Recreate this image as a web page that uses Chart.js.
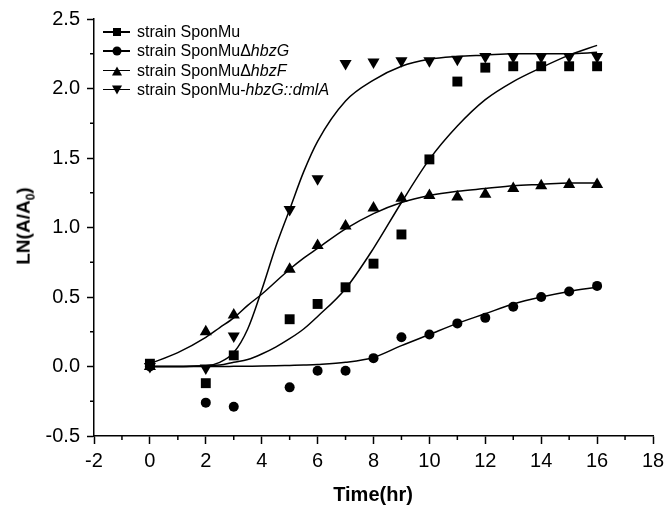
<!DOCTYPE html>
<html lang="en">
<head>
  <meta charset="UTF-8"/>
  <title>LN(A/A0) vs time</title>
  <script src="https://cdn.jsdelivr.net/npm/chart.js"></script>
  <style>
    body {
      margin: 0;
      background: #fff;
      font-family: "Liberation Sans", Arial, sans-serif;
    }
    .wrap {
      position: relative;
      width: 666px;
      height: 506px;
    }
    .y-title {
      position: absolute;
      left: 25px;
      top: 226px;
      transform: translate(-50%, -50%) rotate(-90deg);
      font-weight: bold;
      font-size: 19px;
      white-space: nowrap;
    }
    .y-title sub { font-size: 12px; }
    .x-title {
      position: absolute;
      left: 373px;
      top: 494px;
      transform: translate(-50%, -50%);
      font-weight: bold;
      font-size: 20px;
      white-space: nowrap;
    }
    .legend {
      position: absolute;
      left: 103px;
      top: 22px;
      font-size: 16px;
    }
    .legend .row {
      position: relative;
      height: 19.3px;
      line-height: 19.3px;
      padding-left: 34px;
      white-space: nowrap;
    }
    .legend .row::before {
      content: "";
      position: absolute;
      left: 0;
      top: 9px;
      width: 27px;
      height: 1.5px;
      background: #000;
    }
    .mk {
      position: absolute;
      left: 13.5px;
      top: 10px;
      transform: translate(-50%, -50%);
    }
    .mk.sq { width: 8px; height: 8px; background: #000; }
    .mk.ci { width: 9px; height: 9px; border-radius: 50%; background: #000; }
    .mk.up { width: 0; height: 0; border-left: 5.5px solid transparent; border-right: 5.5px solid transparent; border-bottom: 9px solid #000; }
    .mk.dn { width: 0; height: 0; border-left: 5.5px solid transparent; border-right: 5.5px solid transparent; border-top: 9px solid #000; }
  </style>
</head>
<body>
  <div class="wrap">
    <canvas id="chart" width="666" height="506"></canvas>
    <div class="legend">
      <div class="row"><span class="mk sq"></span>strain SponMu</div>
      <div class="row"><span class="mk ci"></span>strain SponMu&Delta;<i>hbzG</i></div>
      <div class="row"><span class="mk up"></span>strain SponMu&Delta;<i>hbzF</i></div>
      <div class="row"><span class="mk dn"></span>strain SponMu-<i>hbzG::dmlA</i></div>
    </div>
    <div class="y-title">LN(A/A<sub>0</sub>)</div>
    <div class="x-title">Time(hr)</div>
  </div>

  <script>
    // sampling times (hr) of the measured points
    const timePts = [0, 2, 3, 5, 6, 7, 8, 9, 10, 11, 12, 13, 14, 15, 16];

    const sponMu   = [0.02, -0.12, 0.08, 0.34, 0.45, 0.57, 0.74, 0.95, 1.49, 2.05, 2.15, 2.16, 2.16, 2.16, 2.16];
    const dHbzG    = [0.00, -0.26, -0.29, -0.15, -0.03, -0.03, 0.06, 0.21, 0.23, 0.31, 0.35, 0.43, 0.50, 0.54, 0.58];
    const dHbzF    = [0.00, 0.25, 0.37, 0.70, 0.87, 1.01, 1.14, 1.21, 1.23, 1.22, 1.24, 1.28, 1.30, 1.31, 1.31];
    const hbzGdmlA = [0.00, -0.01, 0.22, 1.13, 1.35, 2.18, 2.19, 2.20, 2.20, 2.21, 2.23, 2.23, 2.23, 2.23, 2.23];

    // fitted curves
    const fitX        = [0, 1, 2, 2.5, 3, 3.5, 4, 4.5, 5, 5.5, 6, 7, 8, 9, 10, 11, 12, 13, 14, 15, 16];
    const fitSponMu   = [0, 0, 0.005, 0.01, 0.03, 0.05, 0.09, 0.14, 0.2, 0.27, 0.36, 0.56, 0.85, 1.18, 1.49, 1.73, 1.92, 2.05, 2.15, 2.24, 2.31];
    const fitHbzG     = [0, 0, 0, 0, 0.001, 0.002, 0.003, 0.005, 0.008, 0.011, 0.015, 0.03, 0.065, 0.15, 0.23, 0.31, 0.38, 0.45, 0.5, 0.54, 0.57];
    const fitHbzF     = [0.02, 0.1, 0.21, 0.28, 0.35, 0.44, 0.52, 0.61, 0.7, 0.78, 0.85, 0.99, 1.1, 1.18, 1.23, 1.26, 1.28, 1.3, 1.31, 1.32, 1.32];
    const fitHbzGdmlA = [0, 0, 0.005, 0.03, 0.1, 0.27, 0.55, 0.86, 1.13, 1.4, 1.62, 1.91, 2.06, 2.16, 2.21, 2.23, 2.24, 2.25, 2.25, 2.25, 2.26];

    const pts = (xs, ys) => xs.map((x, i) => ({ x, y: ys[i] }));

    const marks = (data, style, r, rot) => ({
      type: "scatter",
      data: pts(timePts, data),
      pointStyle: style,
      pointRadius: r,
      pointRotation: rot || 0,
      backgroundColor: "#000",
      borderColor: "#000",
      borderWidth: 0,
      showLine: false
    });
    const curve = data => ({
      type: "line",
      data: pts(fitX, data),
      borderColor: "#000",
      borderWidth: 1.5,
      pointRadius: 0,
      cubicInterpolationMode: "monotone",
      fill: false
    });

    // minor ticks are not built into Chart.js
    const minorTicks = {
      id: "minorTicks",
      afterDraw(chart) {
        const { ctx, chartArea } = chart;
        const x = chart.scales.x, y = chart.scales.y;
        ctx.save();
        ctx.strokeStyle = "#000";
        ctx.lineWidth = 1.5;
        ctx.beginPath();
        for (let v = -1; v < 18; v += 2) {
          const px = x.getPixelForValue(v);
          ctx.moveTo(px, chartArea.bottom);
          ctx.lineTo(px, chartArea.bottom + 4);
        }
        for (let v = -0.25; v < 2.5; v += 0.5) {
          const py = y.getPixelForValue(v);
          ctx.moveTo(chartArea.left, py);
          ctx.lineTo(chartArea.left - 4, py);
        }
        ctx.stroke();
        ctx.restore();
      }
    };

    const noPad = s => { s.paddingLeft = 0; s.paddingRight = 0; s.paddingTop = 0; s.paddingBottom = 0; };

    Chart.defaults.font.family = '"Liberation Sans", Arial, sans-serif';
    Chart.defaults.color = "#000";

    new Chart(document.getElementById("chart"), {
      data: {
        datasets: [
          curve(fitSponMu), curve(fitHbzG), curve(fitHbzF), curve(fitHbzGdmlA),
          marks(sponMu, "rect", 7),
          marks(dHbzG, "circle", 5),
          marks(dHbzF, "triangle", 7),
          marks(hbzGdmlA, "triangle", 7, 180)
        ]
      },
      options: {
        responsive: false,
        animation: false,
        layout: { padding: { left: 0, top: 19, right: 13, bottom: 0 } },
        plugins: {
          legend: { display: false },
          tooltip: { enabled: false }
        },
        scales: {
          x: {
            type: "linear",
            min: -2, max: 18,
            border: { color: "#000", width: 1.5 },
            grid: { drawOnChartArea: false, tickLength: 8, tickColor: "#000", tickWidth: 1.5 },
            ticks: { stepSize: 2, font: { size: 20 }, padding: 5, maxRotation: 0 },
            afterFit: s => { s.height = 70; noPad(s); }
          },
          y: {
            type: "linear",
            min: -0.5, max: 2.5,
            border: { color: "#000", width: 1.5 },
            grid: { drawOnChartArea: false, tickLength: 7, tickColor: "#000", tickWidth: 1.5 },
            ticks: { stepSize: 0.5, font: { size: 20 }, padding: 7, callback: v => v.toFixed(1) },
            afterFit: s => { s.width = 94; noPad(s); }
          }
        }
      },
      plugins: [minorTicks]
    });
  </script>
</body>
</html>
